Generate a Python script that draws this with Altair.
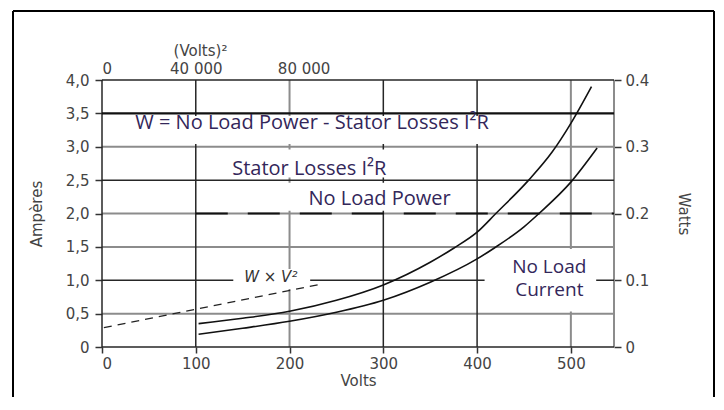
import altair as alt
import pandas as pd

# ---------------- data ----------------
# upper current curve (Amperes vs Volts)
upper_v = [103, 150, 200, 250, 300, 350, 375, 400, 420, 455, 480, 500, 522]
upper_a = [0.35, 0.43, 0.535, 0.70, 0.93, 1.27, 1.48, 1.72, 2.0, 2.5, 2.92, 3.35, 3.9]
# lower current curve
lower_v = [103, 150, 200, 250, 300, 350, 400, 418, 450, 466, 500, 528]
lower_a = [0.19, 0.28, 0.385, 0.52, 0.70, 0.97, 1.32, 1.48, 1.80, 2.0, 2.47, 2.98]
# W x V^2 dashed line
wv2_v = [2, 233]
wv2_a = [0.29, 0.94]
# No Load Power dashed level
nlp_v = [100, 546]
nlp_a = [2.0, 2.0]

x_max = 546
dark_h = [0.0, 1.0, 2.5, 4.0]
thick_h = [3.5]
gray_h = [0.5, 1.5, 2.0, 3.0]
dark_v = [0, 100, 300, 400]
gray_v = [200, 500, 546]

amp_ticks = [0, 0.5, 1.0, 1.5, 2.0, 2.5, 3.0, 3.5, 4.0]
volt_ticks = [0, 100, 200, 300, 400, 500]
watt_ticks = [0, 0.1, 0.2, 0.3, 0.4]
top_pos = [0, 100, 215]
top_labels = ["0", "40 000", "80 000"]

ann_text = ["W = No Load Power - Stator Losses I²R", "Stator Losses I²R", "No Load Power"]
ann_v = [224, 221, 296]
ann_a = [3.27, 2.57, 2.12]

nlc_text = ["No Load\nCurrent"]
nlc_v = [477]
nlc_a = [1.11]

wv_text = ["W × V²"]
wv_v = [180]
wv_a = [0.97]

# white knock-out areas behind labels
ko_v1 = [4, 122, 195, 140, 408]
ko_v2 = [442, 322, 388, 222, 527]
ko_a1 = [3.04, 2.54, 2.04, 0.87, 0.53]
ko_a2 = [3.46, 2.96, 2.46, 1.17, 1.47]

# ---------------- chart ----------------
W, H = 512, 267
AX_FONT = "DejaVu Sans"
AX_COL = "#444444"
TXT_COL = "#33275a"

xs = alt.Scale(domain=[0, x_max], nice=False, zero=False, range=[0, W])
ys = alt.Scale(domain=[0, 4], nice=False, zero=False, range=[H, 0])
ws = alt.Scale(domain=[0, 0.4], nice=False, zero=False, range=[H, 0])

amp_expr = "datum.value == 0 ? '0' : replace(format(datum.value, '.1f'), '.', ',')"
top_expr = " : ".join(
    [f"datum.value == {p} ? '{l}'" for p, l in zip(top_pos, top_labels)]) + " : ''"

common_axis = dict(grid=False, domain=False, labelFont=AX_FONT, labelFontSize=15,
                   labelColor=AX_COL, titleFont=AX_FONT, titleFontSize=15,
                   titleFontWeight="normal", titleColor=AX_COL,
                   tickColor="#333333", tickWidth=1.5)

bottom_axis = alt.Axis(orient="bottom", values=volt_ticks, title="Volts", format="d",
                       tickSize=6, labelPadding=3, titlePadding=2, **common_axis)
left_axis = alt.Axis(orient="left", values=amp_ticks, title="Ampères", labelExpr=amp_expr,
                     tickSize=7, labelPadding=6, titlePadding=21, **common_axis)
top_axis = alt.Axis(orient="top", values=top_pos, labelExpr=top_expr, title="(Volts)²",
                    ticks=False, labelPadding=4, titlePadding=3, titleX=98,
                    titleAnchor="start", titleAlign="center", **common_axis)
right_axis = alt.Axis(orient="right", values=watt_ticks, title="Watts", format=".1~f",
                      tickSize=7, labelPadding=4, titlePadding=27, titleAngle=90,
                      **common_axis)

one = pd.DataFrame({"v": [0], "a": [0], "w": [0]})

axes_main = alt.Chart(one).mark_point(opacity=0).encode(
    x=alt.X("v:Q", scale=xs, axis=bottom_axis),
    y=alt.Y("a:Q", scale=ys, axis=left_axis))
axes_top = alt.Chart(one).mark_point(opacity=0).encode(
    x=alt.X("v:Q", scale=xs, axis=top_axis),
    y=alt.Y("a:Q", scale=ys, axis=None))
axes_right = alt.Chart(one).mark_point(opacity=0).encode(
    x=alt.X("v:Q", scale=xs, axis=None),
    y=alt.Y("w:Q", scale=ws, axis=right_axis))


def hrules(vals, color, width):
    return alt.Chart(pd.DataFrame({"a": vals})).mark_rule(
        color=color, strokeWidth=width).encode(
        y=alt.Y("a:Q", scale=ys, axis=None))


def vrules(vals, color, width):
    return alt.Chart(pd.DataFrame({"v": vals})).mark_rule(
        color=color, strokeWidth=width).encode(
        x=alt.X("v:Q", scale=xs, axis=None))


GRAY = "#8c8c8c"
DARK = "#262626"
grid = [
    hrules(gray_h, GRAY, 2.0),
    vrules(gray_v, GRAY, 2.0),
    hrules(dark_h, DARK, 1.5),
    vrules(dark_v, DARK, 1.5),
    hrules(thick_h, "#111111", 2.2),
]

ko = alt.Chart(pd.DataFrame({"v1": ko_v1, "v2": ko_v2, "a1": ko_a1, "a2": ko_a2})).mark_rect(
    color="white").encode(
    x=alt.X("v1:Q", scale=xs, axis=None), x2="v2:Q",
    y=alt.Y("a1:Q", scale=ys, axis=None), y2="a2:Q")

nlp = alt.Chart(pd.DataFrame({"v": nlp_v, "a": nlp_a})).mark_line(
    color="#111111", strokeWidth=2, strokeDash=[32, 20]).encode(
    x=alt.X("v:Q", scale=xs, axis=None), y=alt.Y("a:Q", scale=ys, axis=None))

wv2 = alt.Chart(pd.DataFrame({"v": wv2_v, "a": wv2_a})).mark_line(
    color="#222222", strokeWidth=1.2, strokeDash=[8, 6]).encode(
    x=alt.X("v:Q", scale=xs, axis=None), y=alt.Y("a:Q", scale=ys, axis=None))

curves = []
for cv, ca in [(upper_v, upper_a), (lower_v, lower_a)]:
    curves.append(alt.Chart(pd.DataFrame({"v": cv, "a": ca})).mark_line(
        color="#111111", strokeWidth=1.6, interpolate="monotone").encode(
        x=alt.X("v:Q", scale=xs, axis=None), y=alt.Y("a:Q", scale=ys, axis=None)))

ann = alt.Chart(pd.DataFrame({"t": ann_text, "v": ann_v, "a": ann_a})).mark_text(
    font="Open Sans", fontSize=20, color=TXT_COL, baseline="alphabetic",
    align="center").encode(
    x=alt.X("v:Q", scale=xs, axis=None), y=alt.Y("a:Q", scale=ys, axis=None),
    text="t:N")

nlc = alt.Chart(pd.DataFrame({"t": nlc_text, "v": nlc_v, "a": nlc_a})).mark_text(
    font="Open Sans", fontSize=19, color=TXT_COL, baseline="alphabetic",
    align="center", lineBreak="\n", lineHeight=23).encode(
    x=alt.X("v:Q", scale=xs, axis=None), y=alt.Y("a:Q", scale=ys, axis=None),
    text="t:N")

wv = alt.Chart(pd.DataFrame({"t": wv_text, "v": wv_v, "a": wv_a})).mark_text(
    font=AX_FONT, fontSize=15, fontStyle="italic", color="#333333",
    baseline="alphabetic", align="center").encode(
    x=alt.X("v:Q", scale=xs, axis=None), y=alt.Y("a:Q", scale=ys, axis=None),
    text="t:N")

# outer frame of the figure (left, top, right edges; bottom lies below the page)
fr = pd.DataFrame({"x1": [-89, -89, 612], "x2": [-89, 612, 612],
                   "y1": [-69, -69, -69], "y2": [340, -69, 340]})
frame = alt.Chart(fr).mark_rule(color="black", strokeWidth=2).encode(
    x=alt.X("x1:Q", scale=None), x2="x2:Q",
    y=alt.Y("y1:Q", scale=None), y2="y2:Q")

chart = alt.layer(
    *grid, ko, nlp, wv2, *curves, ann, nlc, wv,
    axes_main, axes_top, axes_right, frame
).resolve_scale(y="independent").resolve_axis(x="independent", y="independent").properties(
    width=W, height=H,
    autosize=alt.AutoSizeParams(type="none"),
    padding={"left": 94, "top": 72, "right": 102, "bottom": 50},
    background="white"
).configure_view(stroke=None)

chart.save("out.html", embed_options={"renderer": "svg", "actions": False})
